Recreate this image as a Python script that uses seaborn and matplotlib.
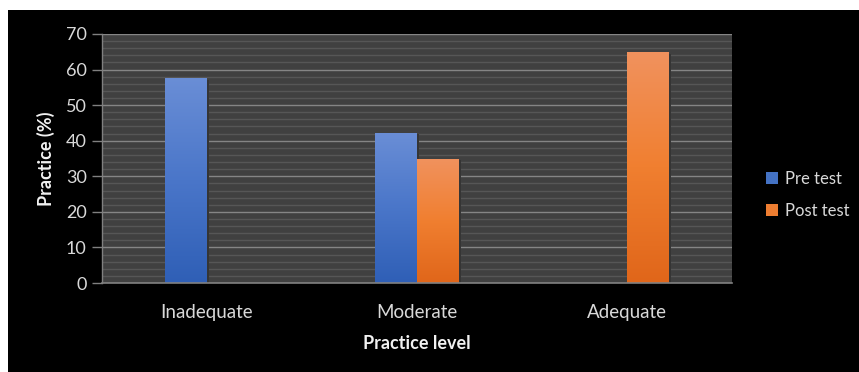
import numpy as np
import pandas as pd
import matplotlib
matplotlib.use("Agg")
import matplotlib.pyplot as plt
from matplotlib.colors import LinearSegmentedColormap
from matplotlib.patches import Rectangle, Patch
import seaborn as sns

# Practice level distribution (%) before and after the intervention
levels = ["Inadequate", "Moderate", "Adequate"]
pre_test = [57.7, 42.3, 0]
post_test = [0, 35, 65]
series = ["Pre test", "Post test"]
y_ticks = [0, 10, 20, 30, 40, 50, 60, 70]

df = pd.DataFrame({
    "level": levels * 2,
    "value": pre_test + post_test,
    "test": [series[0]] * 3 + [series[1]] * 3,
})

sns.set_theme(style="dark")
plt.rcParams["font.family"] = ["Lato", "DejaVu Sans"]

blue, orange = "#4472c4", "#ed7d31"
fig = plt.figure(figsize=(8.59, 3.72), dpi=100, facecolor="white")
# black chart panel
fig.patches.append(Rectangle((8 / 859, 0), 1, 1 - 10 / 372, transform=fig.transFigure,
                             facecolor="black", edgecolor="none", zorder=-10))

ax = fig.add_axes([102 / 859, 1 - 283 / 372, 630 / 859, 249 / 372])
ax.set_facecolor("#404040")

sns.barplot(data=df, x="level", y="value", hue="test", order=levels, hue_order=series,
            palette=[blue, orange], width=0.4, gap=0, dodge=True, ax=ax,
            legend=False, errorbar=None, saturation=1, linewidth=0)

ax.set_yticks(y_ticks)
ax.set_yticks(np.arange(0, 71, 2), minor=True)

# vertical light-to-dark gradient on each bar
grads = {
    blue: LinearSegmentedColormap.from_list("b", ["#2f5fb6", "#4a76c9", "#6a8ed6"]),
    orange: LinearSegmentedColormap.from_list("o", ["#e0661a", "#f07f30", "#f1925e"]),
}
grad = np.linspace(0, 1, 256).reshape(-1, 1)
for i, bar in enumerate(ax.patches):
    h = bar.get_height()
    if h <= 0:
        continue
    x0, w = bar.get_x(), bar.get_width()
    cmap = grads[blue] if i < 3 else grads[orange]
    # soft shadow to the right of the bar
    ax.add_patch(Rectangle((x0 + w, 0), 0.008, h - 0.5, facecolor="#353535",
                           edgecolor="none", zorder=bar.get_zorder() - 0.1))
    im = ax.imshow(grad, cmap=cmap, origin="lower", aspect="auto",
                   extent=(x0, x0 + w, 0, h), zorder=bar.get_zorder() + 0.1)
    im.set_clip_path(bar)
ax.set_xlim(-0.5, 2.5)
ax.set_ylim(0, 70)

ax.grid(True, axis="y", which="minor", color="#565656", linewidth=1.0)
ax.grid(True, axis="y", which="major", color="#858585", linewidth=1.0)
ax.grid(False, axis="x")
ax.set_axisbelow(True)

for side in ["top", "right"]:
    ax.spines[side].set_visible(False)
ax.spines["left"].set_color("#808080")
ax.spines["bottom"].set_color("#808080")
ax.spines["left"].set_linewidth(1.0)
ax.spines["bottom"].set_linewidth(1.2)

ax.tick_params(axis="y", which="major", left=True, length=7, width=1, color="#808080",
               labelcolor="#d9d9d9", labelsize=13, pad=4)
ax.tick_params(axis="y", which="minor", left=False)
ax.tick_params(axis="x", bottom=False, labelcolor="#d9d9d9", labelsize=13.5, pad=9)

ax.set_xlabel("Practice level", color="#f2f2f2", fontsize=13, fontweight="bold", labelpad=10)
ax.set_ylabel("Practice (%)", color="#f2f2f2", fontsize=13, fontweight="bold", labelpad=8)

handles = [Patch(facecolor=blue, edgecolor="none"), Patch(facecolor=orange, edgecolor="none")]
fig.legend(handles, series, loc="center left", bbox_to_anchor=(751 / 859, 1 - 195 / 372),
           frameon=False, labelcolor="#d9d9d9", fontsize=12, handlelength=0.7,
           handleheight=0.7, handletextpad=0.45, labelspacing=0.95)

fig.savefig("out.png", dpi=100, facecolor="white")
